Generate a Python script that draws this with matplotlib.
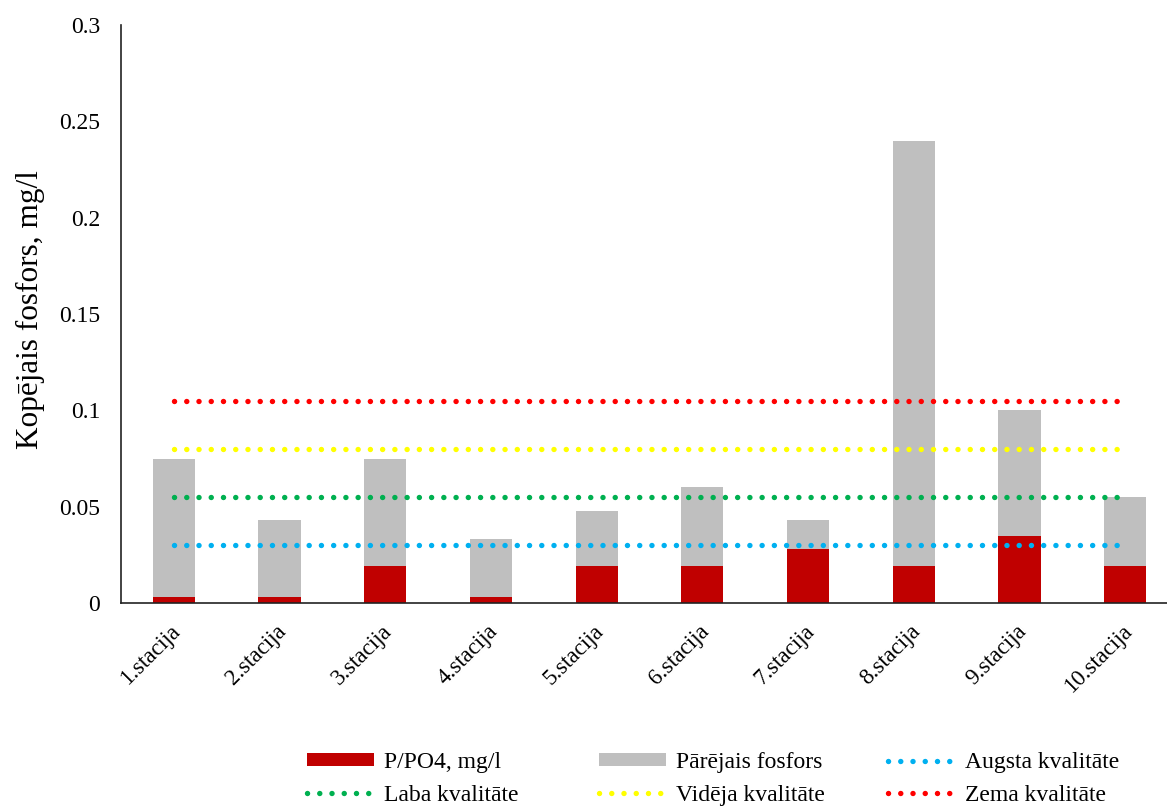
import matplotlib
matplotlib.use("Agg")
import matplotlib.pyplot as plt
import matplotlib.transforms as mtransforms
from matplotlib.patches import Patch
from matplotlib.lines import Line2D
import numpy as np

categories = ["1.stacija", "2.stacija", "3.stacija", "4.stacija", "5.stacija",
              "6.stacija", "7.stacija", "8.stacija", "9.stacija", "10.stacija"]
kopejais = [0.075, 0.043, 0.075, 0.033, 0.048, 0.060, 0.043, 0.240, 0.100, 0.055]
ppo4 = [0.003, 0.003, 0.019, 0.003, 0.019, 0.019, 0.028, 0.019, 0.035, 0.019]
parejais = [k - p for k, p in zip(kopejais, ppo4)]
augsta = [0.030] * 10
laba = [0.055] * 10
videja = [0.080] * 10
zema = [0.105] * 10
yticks = [0, 0.05, 0.1, 0.15, 0.2, 0.25, 0.3]
ytick_labels = ["0", "0.05", "0.1", "0.15", "0.2", "0.25", "0.3"]

plt.rcParams['font.family'] = ['Liberation Serif', 'DejaVu Serif']
FS = 17

W, H = 1167, 807
fig = plt.figure(figsize=(W / 100, H / 100), dpi=100)
ax = fig.add_axes([121 / W, (H - 603) / H, 1057 / W, 578 / H])

x = np.arange(len(categories))
c_red, c_gray = "#C00000", "#BFBFBF"
ax.bar(x, ppo4, width=0.4, color=c_red, zorder=2)
ax.bar(x, parejais, width=0.4, bottom=ppo4, color=c_gray, zorder=2)

dot_style = dict(lw=3.9, linestyle=(0, (0.01, 2.25)), dash_capstyle='round', zorder=3)
line_series = [(augsta, "#00B0F0"), (laba, "#00B050"), (videja, "#FFFF00"), (zema, "#FF0000")]
for vals, col in line_series:
    ax.plot(x, vals, color=col, **dot_style)

ax.set_xlim(-0.5, 9.5)
ax.set_ylim(0, 0.3)
ax.set_yticks(yticks)
ax.set_yticklabels(ytick_labels, fontsize=FS)
ax.tick_params(axis='y', length=0, pad=15)
ax.set_xticks(x)
ax.set_xticklabels(categories, fontsize=16.5, rotation=45, ha='right', va='top',
                   rotation_mode='anchor')
ax.tick_params(axis='x', length=0, pad=13)
shift = mtransforms.ScaledTranslation(-4 / 100, 0, fig.dpi_scale_trans)
for lbl in ax.get_xticklabels():
    lbl.set_transform(lbl.get_transform() + shift)
for s in ['top', 'right']:
    ax.spines[s].set_visible(False)
for s in ['left', 'bottom']:
    ax.spines[s].set_linewidth(1.2)
    ax.spines[s].set_color('#222222')
ax.set_ylabel("Kopējais fosfors, mg/l", fontsize=22.5)
ax.yaxis.set_label_coords(-(121 - 45) / 1057, (603 - 310) / 578)

h_red = Patch(facecolor=c_red)
h_gray = Patch(facecolor=c_gray)
def dl(col):
    return Line2D([0], [0], color=col, **dot_style)

cols = [
    ([h_red, dl("#00B050")], ["P/PO4, mg/l", "Laba kvalitāte"], 307),
    ([h_gray, dl("#FFFF00")], ["Pārējais fosfors", "Vidēja kvalitāte"], 599),
    ([dl("#00B0F0"), dl("#FF0000")], ["Augsta kvalitāte", "Zema kvalitāte"], 888),
]
for hs, ls, px in cols:
    fig.legend(hs, ls, loc='center left', bbox_to_anchor=(px / W, 1 - 779 / H),
               frameon=False, fontsize=FS, borderpad=0, borderaxespad=0,
               handlelength=2.85, handleheight=0.5, handletextpad=0.4,
               labelspacing=0.5)

fig.savefig("out.png", dpi=100)
